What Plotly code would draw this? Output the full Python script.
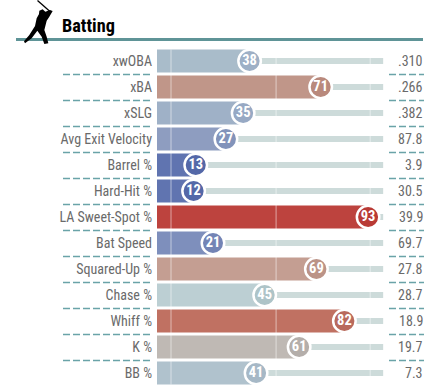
import plotly.graph_objects as go

metrics = ["xwOBA", "xBA", "xSLG", "Avg Exit Velocity", "Barrel %", "Hard-Hit %", "LA Sweet-Spot %",
           "Bat Speed", "Squared-Up %", "Chase %", "Whiff %", "K %", "BB %"]
percentiles = [38, 71, 35, 27, 13, 12, 93, 21, 69, 45, 82, 61, 41]
stat_labels = [".310", ".266", ".382", "87.8", "3.9", "30.5", "39.9", "69.7", "27.8", "28.7", "18.9", "19.7", "7.3"]
bar_colors = ["#a9bcca", "#c09689", "#9fb1c7", "#8e9dc0", "#6074b0", "#6074b0", "#bd433e",
              "#7e8fbc", "#c49e92", "#bccfd3", "#c07162", "#bfb9b4", "#b0c2cd"]
dot_colors = ["#9eb0c6", "#b9897c", "#97a9c4", "#8293ba", "#5468a8", "#5468a8", "#b93a35",
              "#7384b5", "#bb9387", "#aec4c8", "#b96a5c", "#b4aeaa", "#a6b8c6"]
ref_lines = [1.5, 50.3, 94]

W, H = 438, 388
L, R, T, B = 157, 54, 48, 2
PW, PH = W - L - R, H - T - B
X0 = -5
NARROW = "Roboto Condensed, Liberation Sans Narrow, Roboto"
rows = list(range(len(metrics)))

def px(x):
    return (x - L) / PW

def py(y):
    return (H - B - y) / PH

fig = go.Figure()
fig.add_trace(go.Bar(y=rows, x=[100 - v for v in percentiles], base=percentiles, orientation="h",
                     width=0.23, marker=dict(color="#cddbda", line_width=0), hoverinfo="skip"))
fig.add_trace(go.Bar(y=rows, x=[v - X0 for v in percentiles], base=X0, orientation="h",
                     width=0.88, marker=dict(color=bar_colors, line_width=0), hoverinfo="skip"))
for v in ref_lines:
    fig.add_trace(go.Scatter(x=[v, v], y=[-0.44, len(metrics) - 0.56], mode="lines",
                             line=dict(color="rgba(255,255,255,0.35)", width=1.5), hoverinfo="skip"))
fig.add_trace(go.Scatter(x=percentiles, y=rows, mode="markers+text",
                         text=[str(v) for v in percentiles], textposition="middle center",
                         textfont=dict(family=NARROW, size=14.5, color="white", weight="bold"),
                         marker=dict(size=22.5, color=dot_colors, line=dict(color="white", width=2.5)),
                         cliponaxis=False, hoverinfo="skip"))

shapes = [dict(type="line", xref="paper", yref="paper", x0=px(16), x1=px(423), y0=py(39.5), y1=py(39.5),
               line=dict(color="#5f9497", width=3))]
for i in range(len(metrics) - 1):
    for a, b in ((63, 152), (389, 424)):
        shapes.append(dict(type="line", xref="paper", yref="paper", x0=px(a), x1=px(b),
                           y0=py(74.5 + 26 * i), y1=py(74.5 + 26 * i),
                           line=dict(color="#6aa3a8", width=1.3, dash="7px,3px")))

body = [(158, 33), (148, 50), (140, 62), (133, 90), (140, 110), (145, 130), (133, 132), (125, 110), (112, 92),
        (95, 115), (75, 130), (72, 124), (88, 105), (105, 78), (110, 55), (117, 42), (118, 32), (128, 28),
        (136, 35), (150, 30)]
path = "M " + " L ".join(f"{px(a / 3):.4f},{py(b / 3):.4f}" for a, b in body) + " Z"
shapes.append(dict(type="path", xref="paper", yref="paper", path=path, fillcolor="black", line_width=0))
shapes.append(dict(type="line", xref="paper", yref="paper", x0=px(37.5), x1=px(50), y0=py(0.5), y1=py(11.5),
                   line=dict(color="black", width=1.3)))

annotations = [dict(text="<b>Batting</b>", xref="paper", yref="paper", x=px(61), y=py(26), xanchor="left", yanchor="middle",
                    showarrow=False, font=dict(family=NARROW, size=18.3, color="black"),
                    xshift=-1)]
for i, s in zip(rows, stat_labels):
    annotations.append(dict(text=s, xref="paper", yref="y", x=px(424), y=i, xanchor="right", yanchor="middle",
                            showarrow=False, xshift=1, font=dict(family=NARROW, size=14, color="#6a6a6a")))

fig.update_layout(width=W, height=H, margin=dict(l=L, r=R, t=T, b=B), barmode="overlay", showlegend=False,
                  plot_bgcolor="white", paper_bgcolor="white", shapes=shapes, annotations=annotations,
                  xaxis=dict(range=[X0, X0 + PW / 2.154], visible=False),
                  yaxis=dict(tickmode="array", tickvals=rows, ticktext=metrics,
                             range=[len(metrics) - 0.5, -0.5], showgrid=False, zeroline=False, showline=False,
                             ticks="", ticklabelstandoff=4,
                             tickfont=dict(family=NARROW, size=14, color="#6a6a6a")))
fig.write_html("out.html", config=dict(displayModeBar=False),
               post_script="document.body.style.margin='0';document.body.style.overflow='hidden';")
